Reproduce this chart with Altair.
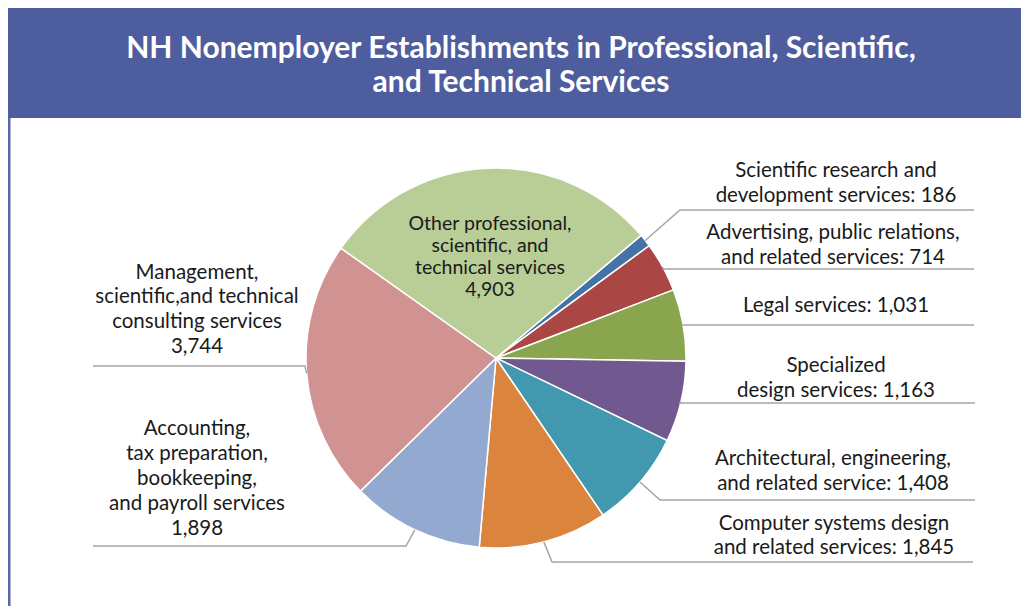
import math
import altair as alt
import pandas as pd

# ---------------- data ----------------
categories = [
    "Scientific research and development services",
    "Advertising, public relations, and related services",
    "Legal services",
    "Specialized design services",
    "Architectural, engineering, and related service",
    "Computer systems design and related services",
    "Accounting, tax preparation, bookkeeping, and payroll services",
    "Management, scientific, and technical consulting services",
    "Other professional, scientific, and technical services",
]
values = [186, 714, 1031, 1163, 1408, 1845, 1898, 3744, 4903]
label_lines = [
    ["Scientific research and", "development services: 186"],
    ["Advertising, public relations,", "and related services: 714"],
    ["Legal services: 1,031"],
    ["Specialized", "design services: 1,163"],
    ["Architectural, engineering,", "and related service: 1,408"],
    ["Computer systems design", "and related services: 1,845"],
    ["Accounting,", "tax preparation,", "bookkeeping,", "and payroll services", "1,898"],
    ["Management,", "scientific,and technical", "consulting services", "3,744"],
    ["Other professional,", "scientific, and", "technical services", "4,903"],
]
colors = ["#4572A7", "#AA4643", "#89A54E", "#71588F", "#4198AF",
          "#DB843D", "#93A9CF", "#D19392", "#B9CD96"]
title_lines = ["NH Nonemployer Establishments in Professional, Scientific,",
               "and Technical Services"]

# ---------------- layout ----------------
W, H = 1013, 598
CX, CY, R = 488, 350, 190
START_DEG = 49.8
BANNER_H = 110
# label block: centre x, first-line visual centre y, line height, font size
label_pos = [
    (828, 162, 25, 20.5), (825, 224, 25, 20.5), (828, 297, 25, 20.5),
    (828, 357, 25, 20.5), (825, 450, 25, 20.5), (826, 515, 24, 20.5),
    (189, 420, 25, 20.5), (189, 264, 24.7, 20.5), (482, 216, 22, 19.5),
]
# leader: elbow point, far end (None for inside label)
leader_pos = [
    ((672, 202), (966, 202)), ((655, 261), (966, 261)),
    ((675, 317), (966, 317)), ((672, 395), (967, 395)),
    ((652, 492), (967, 492)), ((544, 554), (965, 554)),
    ((398, 538), (85, 538)), ((297, 358), (85, 358)),
    None,
]

total = sum(values)
start = math.radians(START_DEG)

pie_df = pd.DataFrame({"category": categories, "value": values,
                       "idx": list(range(len(values)))})

pie = alt.Chart(pie_df).mark_arc(radius=R, stroke="white", strokeWidth=1.5).encode(
    theta=alt.Theta("value:Q", stack=True,
                    scale=alt.Scale(domain=[0, total], nice=False,
                                    range=[start, start + 2 * math.pi])),
    color=alt.Color("category:N", scale=alt.Scale(domain=categories, range=colors),
                    legend=None),
    order=alt.Order("idx:Q"),
    x=alt.value(CX),
    y=alt.value(CY),
)

# leader lines: start at slice mid-angle on the rim
rows = []
cum = 0
for i, v in enumerate(values):
    a = start + 2 * math.pi * (cum + v / 2) / total
    cum += v
    if leader_pos[i] is None:
        continue
    ex, ey = CX + R * math.sin(a), CY - R * math.cos(a)
    (bx, by), (fx, fy) = leader_pos[i]
    for k, (px, py) in enumerate([(ex, ey), (bx, by), (fx, fy)]):
        rows.append({"cat": categories[i], "k": k, "px": px, "py": py})
lead_df = pd.DataFrame(rows)

leaders = alt.Chart(lead_df).mark_line(color="#A5A5A5", strokeWidth=1.5).encode(
    x=alt.X("px:Q", scale=None, axis=None),
    y=alt.Y("py:Q", scale=None, axis=None),
    detail="cat:N",
    order="k:Q",
)

label_layers = []
for i, lines in enumerate(label_lines):
    lx, ly, lh, fs = label_pos[i]
    df = pd.DataFrame({"t": ["\n".join(lines)], "px": [lx], "py": [ly - 0.45 * fs]})
    label_layers.append(
        alt.Chart(df).mark_text(
            font="Lato", fontSize=fs, color="#1A1A1A", align="center",
            baseline="top", lineBreak="\n", lineHeight=lh
        ).encode(
            x=alt.X("px:Q", scale=None, axis=None),
            y=alt.Y("py:Q", scale=None, axis=None),
            text="t:N",
        )
    )

one = pd.DataFrame({"a": [0]})
banner = alt.Chart(one).mark_rect(color="#4E5D9E").encode(
    x=alt.value(0), x2=alt.value(W), y=alt.value(0), y2=alt.value(BANNER_H)
)
border = alt.Chart(one).mark_rule(color="#5868AC", strokeWidth=3).encode(
    x=alt.value(1), y=alt.value(BANNER_H), y2=alt.value(H)
)

title_df = pd.DataFrame({"t": title_lines, "py": [41, 75]})
title = alt.Chart(title_df).mark_text(
    font="Lato", fontSize=30, fontWeight="bold", color="white",
    align="center", baseline="middle"
).encode(
    x=alt.value(513),
    y=alt.Y("py:Q", scale=None, axis=None),
    text="t:N",
)

chart = alt.layer(banner, border, pie, leaders, *label_layers, title).properties(
    width=W, height=H, padding=0, autosize=alt.AutoSizeParams(type="none"),
    background="white",
).configure_view(stroke=None)

chart.save("out.html", embed_options={"renderer": "svg", "actions": False})
